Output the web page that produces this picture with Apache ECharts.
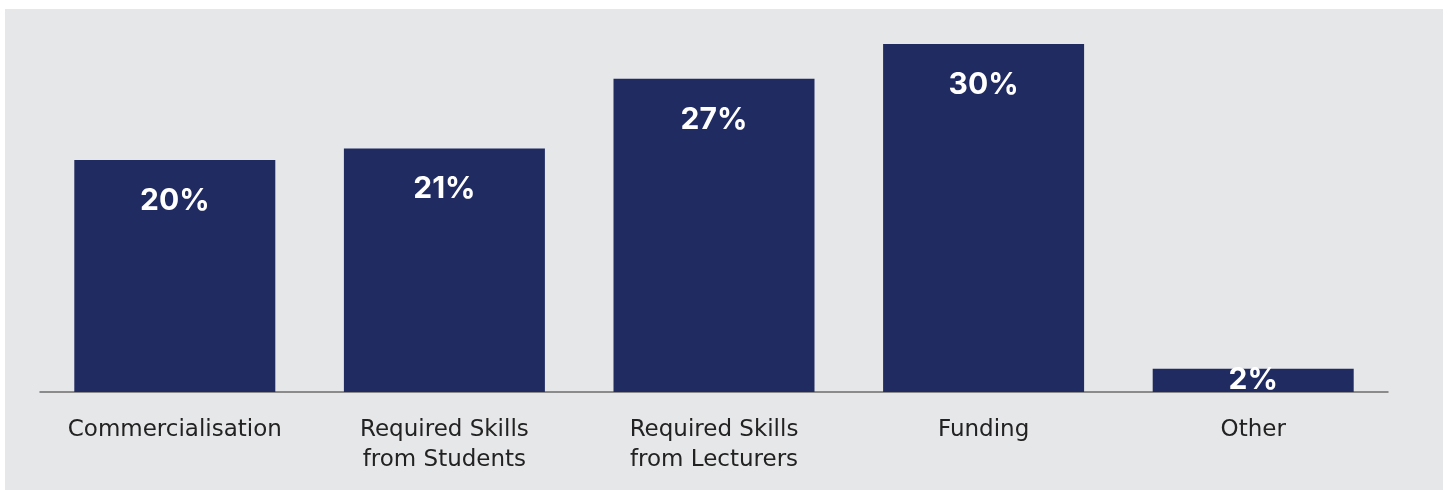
<!DOCTYPE html>
<html>
<head>
<meta charset="utf-8">
<script src="https://cdn.jsdelivr.net/npm/echarts@6/dist/echarts.min.js"></script>
<style>
  html, body { margin: 0; padding: 0; background: #ffffff; }
  #chart { width: 1448px; height: 490px; }
</style>
</head>
<body>
<div id="chart"></div>
<script>
// Challenges reported, share of responses (%)
const categories = [
  'Commercialisation',
  'Required Skills\nfrom Students',
  'Required Skills\nfrom Lecturers',
  'Funding',
  'Other'
];
const shares = [20, 21, 27, 30, 2];

const chart = echarts.init(document.getElementById('chart'));

chart.setOption({
  animation: false,
  graphic: [{
    type: 'rect',
    z: -10,
    shape: { x: 5, y: 9, width: 1438, height: 481 },
    style: { fill: '#e6e7e9' }
  }],
  grid: { left: 40, right: 60, top: 44, bottom: 98 },
  xAxis: {
    type: 'category',
    data: categories,
    axisTick: { show: false },
    axisLine: { show: true, lineStyle: { color: '#6e6e6e', width: 1.5 } },
    axisLabel: {
      color: '#222222',
      fontFamily: 'DejaVu Sans',
      fontSize: 23,
      lineHeight: 30,
      margin: 23,
      interval: 0
    }
  },
  yAxis: {
    type: 'value',
    min: 0,
    max: 30,
    show: false,
    splitLine: { show: false }
  },
  series: [{
    type: 'bar',
    barWidth: 201,
    data: shares.map((v) => {
      const item = { value: v };
      if (v < 5) {
        // too short for a label below the top edge: centre it in the bar
        item.label = { position: 'inside' };
      }
      return item;
    }),
    itemStyle: { color: '#202b62' },
    label: {
      show: true,
      position: 'insideTop',
      distance: 26,
      formatter: '{c}%',
      color: '#ffffff',
      fontFamily: 'Inter',
      fontWeight: 'bold',
      fontSize: 30
    }
  }]
});
</script>
</body>
</html>
